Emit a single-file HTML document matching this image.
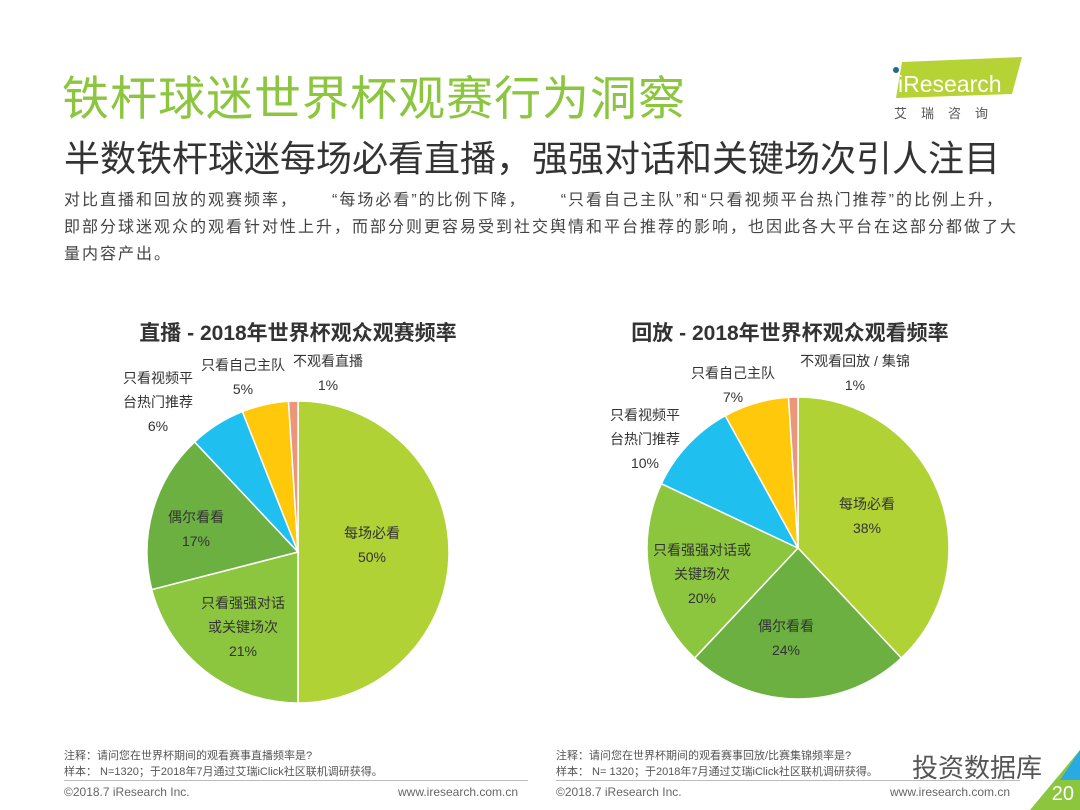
<!DOCTYPE html>
<html><head><meta charset="utf-8">
<style>
body{margin:0;width:1080px;height:810px;background:#fff;overflow:hidden;position:relative;font-family:"Liberation Sans","Noto Sans CJK SC",sans-serif}
.abs{position:absolute}
.gap{display:inline-block;width:34px}
</style></head>
<body>
<div class="abs" style="left:62px;top:60px;font-size:47px;color:#8cc63e;letter-spacing:1px;white-space:nowrap">铁杆球迷世界杯观赛行为洞察</div>
<div class="abs" style="left:64px;top:130px;font-size:36px;color:#333;white-space:nowrap">半数铁杆球迷每场必看直播，强强对话和关键场次引人注目</div>
<div class="abs" style="left:64px;top:187px;font-size:16px;letter-spacing:2px;line-height:27px;color:#444;white-space:nowrap">对比直播和回放的观赛频率，<span class="gap"></span>“每场必看”的比例下降，<span class="gap"></span>“只看自己主队”和“只看视频平台热门推荐”的比例上升，<br>即部分球迷观众的观看针对性上升，而部分则更容易受到社交舆情和平台推荐的影响，也因此各大平台在这部分都做了大<br>量内容产出。</div>
<svg class="abs" style="left:880px;top:54px" width="150" height="70">
<polygon points="22,8 142,3 132,40 16,44" fill="#b5d334"/>
<circle cx="16" cy="16" r="3" fill="#1f6b8a"/>
<text x="18" y="38" font-size="23" fill="#fff" font-family="Liberation Sans">iResearch</text>
<text x="14" y="64" font-size="13" fill="#555" letter-spacing="14">艾瑞咨询</text>
</svg>
<svg id="chart" class="abs" style="left:0;top:0" width="1080" height="810">
<text x="298" y="340" text-anchor="middle" font-size="21" font-weight="bold" fill="#333">直播 - 2018年世界杯观众观赛频率</text>
<text x="790" y="340" text-anchor="middle" font-size="21" font-weight="bold" fill="#333">回放 - 2018年世界杯观众观看频率</text>
<g id="pies"></g>
</svg>
<div class="abs" style="left:64px;top:748px;font-size:11px;line-height:16px;color:#555">注释：请问您在世界杯期间的观看赛事直播频率是?<br>样本： N=1320；于2018年7月通过艾瑞iClick社区联机调研获得。</div>
<div class="abs" style="left:556px;top:748px;font-size:11px;line-height:16px;color:#555">注释：请问您在世界杯期间的观看赛事回放/比赛集锦频率是?<br>样本： N= 1320；于2018年7月通过艾瑞iClick社区联机调研获得。</div>
<div class="abs" style="left:64px;top:780px;width:464px;height:1px;background:#bbb"></div>
<div class="abs" style="left:556px;top:780px;width:464px;height:1px;background:#bbb"></div>
<div class="abs" style="left:64px;top:785px;font-size:12px;color:#666">©2018.7 iResearch Inc.</div>
<div class="abs" style="left:398px;top:785px;font-size:12px;color:#666">www.iresearch.com.cn</div>
<div class="abs" style="left:556px;top:785px;font-size:12px;color:#666">©2018.7 iResearch Inc.</div>
<div class="abs" style="left:890px;top:785px;font-size:12px;color:#666">www.iresearch.com.cn</div>
<div class="abs" style="left:912px;top:748px;font-size:26px;color:#555">投资数据库</div>
<svg class="abs" style="left:1030px;top:740px" width="50" height="70">
<polygon points="50,10 50,70 0,70" fill="#8cc63e"/><polygon points="50,10 50,40 30,40" fill="#29abe2"/>
<text x="44" y="60" text-anchor="end" font-size="20" fill="#fff">20</text></svg>
<script>
const liveCategories=["每场必看","只看强强对话或关键场次","偶尔看看","只看视频平台热门推荐","只看自己主队","不观看直播"];
const liveValues=[50,21,17,6,5,1];
const liveColors=["#b0d235","#8cc63e","#6cb042","#1fc0ef","#ffc80b","#e9967a"];
const replayCategories=["每场必看","偶尔看看","只看强强对话或关键场次","只看视频平台热门推荐","只看自己主队","不观看回放 / 集锦"];
const replayValues=[38,24,20,10,7,1];
const replayColors=["#b0d235","#6cb042","#8cc63e","#1fc0ef","#ffc80b","#e9967a"];
const NS="http://www.w3.org/2000/svg";
const g=document.getElementById('pies');
function pie(cx,cy,r,vals,cols,names,prefix){
  const tot=vals.reduce((a,b)=>a+b,0);let a0=0;
  vals.forEach((v,i)=>{
    const a1=a0+v/tot*2*Math.PI;
    const x0=cx+r*Math.sin(a0),y0=cy-r*Math.cos(a0),x1=cx+r*Math.sin(a1),y1=cy-r*Math.cos(a1);
    const p=document.createElementNS(NS,'path');
    p.setAttribute('d',`M${cx},${cy}L${x0},${y0}A${r},${r} 0 ${a1-a0>Math.PI?1:0} 1 ${x1},${y1}Z`);
    p.setAttribute('fill',cols[i]);p.setAttribute('stroke','#fff');p.setAttribute('stroke-width','1.5');
    
    
    g.appendChild(p);a0=a1;
  });
}
pie(298,552,151,liveValues,liveColors,liveCategories,'live');
pie(798,548,151,replayValues,replayColors,replayCategories,'replay');
function lbl(x,y,lines,color){
  lines.forEach((t,j)=>{
    const e=document.createElementNS(NS,'text');
    e.setAttribute('x',x);e.setAttribute('y',y+j*24);e.setAttribute('text-anchor','middle');
    e.setAttribute('font-size','14');e.setAttribute('fill',color||'#333');e.textContent=t;
    
    
    g.appendChild(e);
  });
}
lbl(372,538,["每场必看",liveValues[0]+"%"]);
lbl(243,608,["只看强强对话","或关键场次",liveValues[1]+"%"]);
lbl(196,522,["偶尔看看",liveValues[2]+"%"]);
lbl(158,383,["只看视频平","台热门推荐",liveValues[3]+"%"]);
lbl(243,370,["只看自己主队",liveValues[4]+"%"]);
lbl(328,366,["不观看直播",liveValues[5]+"%"]);
lbl(867,509,["每场必看",replayValues[0]+"%"]);
lbl(786,631,["偶尔看看",replayValues[1]+"%"]);
lbl(702,555,["只看强强对话或","关键场次",replayValues[2]+"%"]);
lbl(645,420,["只看视频平","台热门推荐",replayValues[3]+"%"]);
lbl(733,378,["只看自己主队",replayValues[4]+"%"]);
lbl(855,366,["不观看回放 / 集锦",replayValues[5]+"%"]);
</script>
</body></html>
